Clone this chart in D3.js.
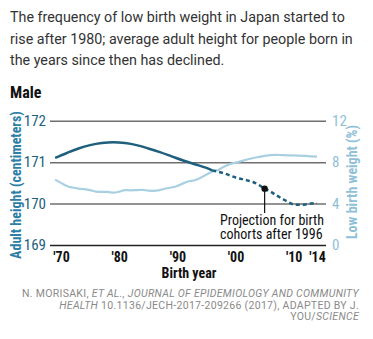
<!DOCTYPE html>
<html>
<head>
<meta charset="utf-8">
<script src="https://cdn.jsdelivr.net/npm/d3@7"></script>
<style>
  html, body { margin: 0; padding: 0; background: #fff; }
  svg { display: block; }
  .narrow { font-family: 'Roboto Condensed', 'Liberation Sans Narrow', sans-serif; }
</style>
</head>
<body>
<div id="chart"></div>
<script>
// Birth years and series
const heightYears = [1969, 1971, 1973, 1975, 1977, 1979, 1981, 1983, 1985, 1987, 1989, 1991, 1993, 1995, 1996];
const heightCm = [171.10, 171.22, 171.33, 171.41, 171.46, 171.48, 171.46, 171.41, 171.33, 171.24, 171.14, 171.04, 170.95, 170.86, 170.80];

const projYears = [1996, 1998, 2000, 2002, 2003, 2004, 2005, 2006, 2007, 2008, 2009, 2010, 2011, 2012, 2013, 2014];
const projCm = [170.80, 170.73, 170.63, 170.56, 170.52, 170.45, 170.36, 170.29, 170.20, 170.12, 170.04, 169.98, 169.97, 169.98, 170.00, 170.01];

const lbwYears = d3.range(1969, 2015);
const lbwPct = [6.3, 6.0, 5.7, 5.55, 5.45, 5.4, 5.3, 5.15, 5.12, 5.12, 5.05, 5.15, 5.3, 5.28, 5.3, 5.32,
  5.25, 5.22, 5.3, 5.45, 5.55, 5.7, 5.95, 6.15, 6.25, 6.5, 6.8, 7.1, 7.25, 7.55, 7.8, 7.95,
  8.1, 8.25, 8.4, 8.5, 8.6, 8.68, 8.7, 8.68, 8.66, 8.65, 8.62, 8.6, 8.55, 8.53];

const xTicks = [1970, 1980, 1990, 2000, 2010, 2014];
const xTickLabels = ["'70", "'80", "'90", "'00", "'10", "'14"];
const heightTicks = [169, 170, 171, 172];
const lbwTicks = [0, 4, 8, 12];
const markerYear = 2005;

const titleLines = [
  "The frequency of low birth weight in Japan started to",
  "rise after 1980; average adult height for people born in",
  "the years since then has declined."
];

const width = 373, height = 339;
const dark = "#1d5f7c", light = "#a9d0e2";

const svg = d3.select("#chart").append("svg")
  .attr("width", width)
  .attr("height", height);

// Intro text
svg.append("g").selectAll("text")
  .data(titleLines)
  .join("text")
  .attr("x", 10)
  .attr("y", (d, i) => 22 + i * 21.5)
  .attr("font-family", "Roboto, sans-serif")
  .attr("font-size", 14.3)
  .attr("fill", "#333")
  .text(d => d);

svg.append("text")
  .attr("class", "narrow")
  .attr("x", 10).attr("y", 98)
  .attr("font-size", 16).attr("font-weight", "bold")
  .attr("fill", "#111")
  .text("Male");

const x = d3.scaleLinear().domain([1970, 2014]).range([61, 317]);
const yL = d3.scaleLinear().domain([169, 172]).range([245, 120.7]);
const yR = d3.scaleLinear().domain([0, 12]).range([245, 120.7]);

const gridLeft = 50, gridRight = 326;

// Left axis doubles as the gridlines
const leftAxis = svg.append("g")
  .attr("class", "narrow")
  .attr("transform", `translate(${gridLeft},0)`)
  .call(d3.axisLeft(yL).tickValues(heightTicks).tickFormat(d3.format("d"))
    .tickSize(-(gridRight - gridLeft)).tickPadding(4));
leftAxis.select(".domain").remove();
leftAxis.selectAll(".tick line")
  .attr("stroke", d => d === 169 ? "#222" : "#6f6f6f")
  .attr("stroke-width", 1.5);
leftAxis.selectAll(".tick text")
  .attr("font-size", 15)
  .attr("fill", dark);

const rightAxis = svg.append("g")
  .attr("class", "narrow")
  .attr("transform", `translate(${gridRight},0)`)
  .call(d3.axisRight(yR).tickValues(lbwTicks).tickFormat(d3.format("d"))
    .tickSize(0).tickPadding(6));
rightAxis.select(".domain").remove();
rightAxis.selectAll(".tick text")
  .attr("font-size", 15)
  .attr("fill", "#8fc0d8");

const bottomAxis = svg.append("g")
  .attr("class", "narrow")
  .attr("transform", "translate(0,245)")
  .call(d3.axisBottom(x).tickValues(xTicks).tickSize(0).tickPadding(7)
    .tickFormat((d, i) => xTickLabels[i]));
bottomAxis.select(".domain").remove();
bottomAxis.selectAll(".tick text")
  .attr("font-size", 14)
  .attr("font-weight", "bold")
  .attr("fill", "#111");

// Axis titles
svg.append("text")
  .attr("class", "narrow")
  .attr("transform", "translate(21,185) rotate(-90)")
  .attr("text-anchor", "middle")
  .attr("font-size", 14).attr("font-weight", "bold")
  .attr("fill", "#2c7ea6")
  .text("Adult height (centimeters)");

svg.append("text")
  .attr("class", "narrow")
  .attr("transform", "translate(357,182) rotate(-90)")
  .attr("text-anchor", "middle")
  .attr("font-size", 14).attr("font-weight", "bold")
  .attr("fill", "#8fc0d8")
  .text("Low birth weight (%)");

svg.append("text")
  .attr("class", "narrow")
  .attr("x", 189).attr("y", 278)
  .attr("text-anchor", "middle")
  .attr("font-size", 14).attr("font-weight", "bold")
  .attr("fill", "#111")
  .text("Birth year");

// Lines
const lbwLine = d3.line()
  .x((d, i) => x(lbwYears[i]))
  .y(d => yR(d))
  .curve(d3.curveMonotoneX);

svg.append("path")
  .datum(lbwPct)
  .attr("d", lbwLine)
  .attr("fill", "none")
  .attr("stroke", light)
  .attr("stroke-width", 2.2);

const hLine = d3.line()
  .x(d => x(d[0]))
  .y(d => yL(d[1]))
  .curve(d3.curveMonotoneX);

svg.append("path")
  .datum(heightYears.map((yr, i) => [yr, heightCm[i]]))
  .attr("d", hLine)
  .attr("fill", "none")
  .attr("stroke", dark)
  .attr("stroke-width", 2.5);

svg.append("path")
  .datum(projYears.map((yr, i) => [yr, projCm[i]]))
  .attr("d", hLine)
  .attr("fill", "none")
  .attr("stroke", dark)
  .attr("stroke-width", 2.5)
  .attr("stroke-dasharray", "4,3");

// Projection annotation
const mIdx = projYears.indexOf(markerYear);
const mx = x(markerYear), my = yL(projCm[mIdx]);
svg.append("line")
  .attr("x1", mx).attr("x2", mx)
  .attr("y1", my).attr("y2", 213)
  .attr("stroke", "#111").attr("stroke-width", 1.2);
svg.append("circle")
  .attr("cx", mx).attr("cy", my).attr("r", 3.2)
  .attr("fill", "#111");

svg.append("g").attr("class", "narrow")
  .selectAll("text")
  .data(["Projection for birth", "cohorts after 1996"])
  .join("text")
  .attr("x", 220)
  .attr("y", (d, i) => 225 + i * 13.5)
  .attr("font-size", 14)
  .attr("fill", "#111")
  .text(d => d);

// Source credit
const credit = svg.append("g")
  .attr("font-family", "Roboto, sans-serif")
  .attr("font-size", 10.5)
  .attr("letter-spacing", 0.3)
  .attr("fill", "#8a8a8a")
  .attr("text-anchor", "end");

const c1 = credit.append("text").attr("x", 359).attr("y", 297);
c1.append("tspan").text("N. MORISAKI, ");
c1.append("tspan").attr("font-style", "italic").text("ET AL., JOURNAL OF EPIDEMIOLOGY AND COMMUNITY");

const c2 = credit.append("text").attr("x", 359).attr("y", 308.5);
c2.append("tspan").attr("font-style", "italic").text("HEALTH");
c2.append("tspan").text(" 10.1136/JECH-2017-209266 (2017), ADAPTED BY J.");

const c3 = credit.append("text").attr("x", 359).attr("y", 320);
c3.append("tspan").text("YOU/");
c3.append("tspan").attr("font-style", "italic").text("SCIENCE");
</script>
</body>
</html>
